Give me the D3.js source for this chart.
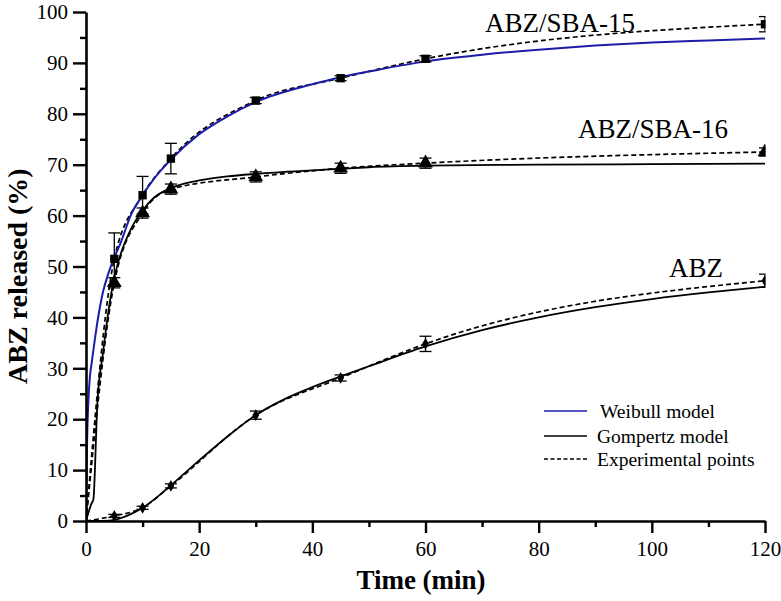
<!DOCTYPE html>
<html><head><meta charset="utf-8">
<script src="https://cdn.jsdelivr.net/npm/d3@7"></script>
<style>body{margin:0;background:#fff}svg{display:block}</style>
</head><body>
<svg id="c" width="781" height="601"></svg>
<script>
// ---- data ----
const expTime = [0, 5, 10, 15, 30, 45, 60, 120];
const sba15Exp = [0, 51.5, 64.0, 71.2, 82.6, 87.0, 90.8, 97.6];
const sba15Err = [0, 5.1, 3.7, 3.0, 0.6, 0.5, 0.6, 1.5];
const sba16Exp = [0, 46.8, 60.5, 65.2, 67.6, 69.3, 70.3, 72.5];
const sba16Err = [0, 1.0, 1.0, 1.0, 1.0, 1.0, 1.0, 0.8];
const abzExp = [0, 1.0, 2.6, 6.9, 20.8, 28.1, 34.8, 47.2];
const abzErr = [0, 0.3, 0.3, 0.4, 0.8, 0.6, 1.5, 1.3];

const weibullTime = [0, 0.2, 0.4, 0.7, 1, 1.6, 2, 3, 4, 5, 6, 8, 10, 12, 15, 20, 25, 30, 40, 45, 50, 60, 70, 80, 90, 100, 110, 120];
const weibullSba15 = [0, 16, 23, 28.5, 31, 36, 39, 45, 48.8, 51.8, 54.3, 60.3, 64, 67.2, 71, 76, 79.5, 82.3, 85.8, 87.2, 88.3, 90.3, 91.6, 92.6, 93.4, 94.0, 94.4, 94.8];

const gompTime16 = [0, 1, 1.3, 2, 3, 4, 5, 6, 8, 10, 12, 15, 20, 25, 30, 40, 45, 50, 60, 80, 100, 120];
const gompSba16 = [0, 3.5, 4.2, 23, 33, 41.5, 47.8, 52, 57.5, 61, 63.5, 65.4, 66.9, 67.7, 68.2, 68.9, 69.2, 69.5, 69.8, 70.0, 70.1, 70.2];

const gompTimeAbz = [0, 2, 4, 5, 6, 8, 10, 12, 15, 20, 25, 30, 35, 40, 45, 50, 60, 70, 80, 90, 100, 110, 120];
const gompAbz = [0, 0, 0.05, 0.2, 0.5, 1.4, 2.6, 4.2, 7.0, 11.9, 16.6, 20.8, 23.9, 26.3, 28.4, 30.4, 34.3, 37.5, 40.0, 42.0, 43.6, 44.9, 46.0];

const xMajor = [0, 20, 40, 60, 80, 100, 120];
const xMinor = [10, 30, 50, 70, 90, 110];
const yMajor = [0, 10, 20, 30, 40, 50, 60, 70, 80, 90, 100];
const yMinor = [5, 15, 25, 35, 45, 55, 65, 75, 85, 95];

const seriesLabels = ["ABZ/SBA-15", "ABZ/SBA-16", "ABZ"];
const legendLabels = ["Weibull model", "Gompertz model", "Experimental points"];

// ---- layout ----
const FONT = '"Liberation Serif", "Times New Roman", Times, serif';
const svg = d3.select("#c");
const L = 86, R = 765, T = 12, B = 521;
const x = d3.scaleLinear().domain([0, 120]).range([L, R]);
const y = d3.scaleLinear().domain([0, 100]).range([B, T]);
const blue = "#1c1ca8";

svg.append("defs").append("clipPath").attr("id", "clip")
  .append("rect").attr("x", L).attr("y", 0).attr("width", R - L + 0.5).attr("height", B);

const plot = svg.append("g").attr("clip-path", "url(#clip)");

const toPts = (ts, vs) => ts.map((t, i) => [t, vs[i]]);
const line = d3.line().x(d => x(d[0])).y(d => y(d[1])).curve(d3.curveMonotoneX);

// experimental dashed lines
[sba15Exp, sba16Exp, abzExp].forEach(vs => {
  plot.append("path").attr("d", line(toPts(expTime, vs)))
    .attr("fill", "none").attr("stroke", "#000").attr("stroke-width", 1.7)
    .attr("stroke-dasharray", "5,3");
});
// Gompertz
[[gompTime16, gompSba16], [gompTimeAbz, gompAbz]].forEach(([ts, vs]) => {
  plot.append("path").attr("d", line(toPts(ts, vs)))
    .attr("fill", "none").attr("stroke", "#000").attr("stroke-width", 1.8);
});
// Weibull
plot.append("path").attr("d", line(toPts(weibullTime, weibullSba15)))
  .attr("fill", "none").attr("stroke", blue).attr("stroke-width", 2);

// error bars + markers
function drawPoints(vs, es, shape, size) {
  const g = plot.append("g");
  expTime.forEach((t, i) => {
    if (t === 0) return;
    const cx = x(t), v = vs[i], e = es[i];
    const y1 = y(v + e), y2 = y(v - e);
    g.append("line").attr("x1", cx).attr("x2", cx).attr("y1", y1).attr("y2", y2)
      .attr("stroke", "#000").attr("stroke-width", 1.3);
    [y1, y2].forEach(yy => g.append("line").attr("x1", cx - 6).attr("x2", cx + 6)
      .attr("y1", yy).attr("y2", yy).attr("stroke", "#000").attr("stroke-width", 1.3));
    g.append("path").attr("transform", `translate(${cx},${y(v)})`)
      .attr("d", d3.symbol().type(shape).size(size)()).attr("fill", "#000");
  });
}
drawPoints(sba15Exp, sba15Err, d3.symbolSquare, 70);
drawPoints(sba16Exp, sba16Err, d3.symbolTriangle, 95);
drawPoints(abzExp, abzErr, d3.symbolDiamond, 40);

// axes
svg.append("g").attr("transform", `translate(0,${B})`)
  .call(d3.axisBottom(x).tickValues(xMajor).tickSize(12).tickSizeOuter(0).tickPadding(8));
svg.append("g").attr("transform", `translate(0,${B})`)
  .call(d3.axisBottom(x).tickValues(xMinor).tickSize(6).tickSizeOuter(0).tickFormat(""))
  .select(".domain").remove();
svg.append("g").attr("transform", `translate(${L},0)`)
  .call(d3.axisLeft(y).tickValues(yMajor).tickSize(13).tickSizeOuter(0).tickPadding(5));
svg.append("g").attr("transform", `translate(${L},0)`)
  .call(d3.axisLeft(y).tickValues(yMinor).tickSize(6).tickSizeOuter(0).tickFormat(""))
  .select(".domain").remove();
svg.selectAll(".domain").attr("stroke-width", 2.6);
svg.selectAll(".tick line").attr("stroke-width", 2.4);
svg.selectAll(".tick text").attr("fill", "#000")
  .style("font-family", FONT).style("font-size", "21px");

// axis titles
svg.append("text").attr("x", 421).attr("y", 589).attr("text-anchor", "middle")
  .style("font-family", FONT).style("font-size", "27px").style("font-weight", "bold").text("Time (min)");
svg.append("text").attr("transform", "translate(27,384) rotate(-90)").attr("text-anchor", "start")
  .style("font-family", FONT).style("font-size", "28px").style("font-weight", "bold").text("ABZ released (%)");

// series labels
const labPos = [[635, 32], [728, 138], [723, 277]];
seriesLabels.forEach((s, i) => {
  svg.append("text").attr("x", labPos[i][0]).attr("y", labPos[i][1]).attr("text-anchor", "end")
    .style("font-family", FONT).style("font-size", "27px").text(s);
});

// legend
const legY = [411, 436, 459];
const legStyle = [{c: blue, d: null, w: 1.5}, {c: "#000", d: null, w: 1.5}, {c: "#000", d: "4,2.5", w: 1.4}];
legendLabels.forEach((s, i) => {
  svg.append("line").attr("x1", 544).attr("x2", 587).attr("y1", legY[i]).attr("y2", legY[i])
    .attr("stroke", legStyle[i].c).attr("stroke-width", legStyle[i].w)
    .attr("stroke-dasharray", legStyle[i].d);
  svg.append("text").attr("x", i === 0 ? 600 : 597).attr("y", legY[i] + 6.5)
    .style("font-family", FONT).style("font-size", "19.5px").text(s);
});
</script>
</body></html>
